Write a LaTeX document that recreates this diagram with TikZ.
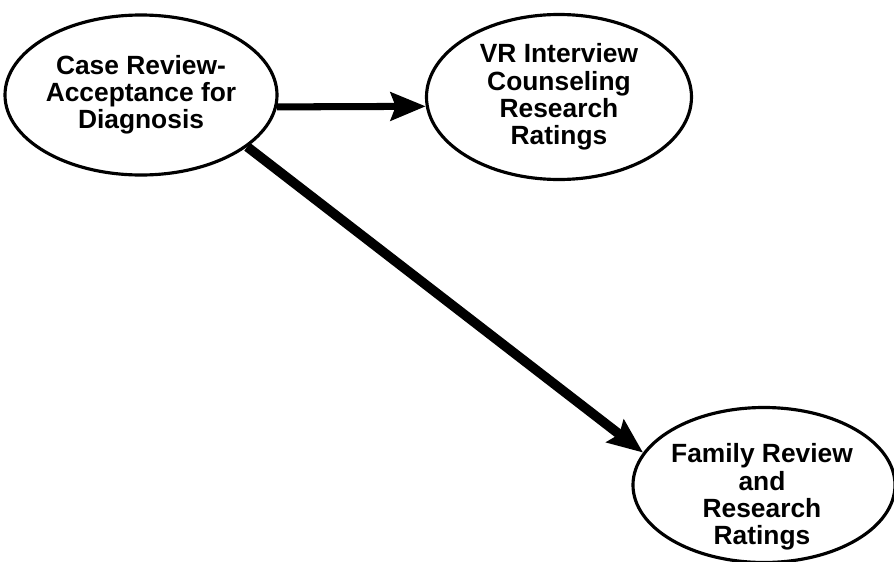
\documentclass[tikz,border=0pt]{standalone}
\usepackage{fontspec}
\setmainfont{Liberation Sans}
\usetikzlibrary{shapes.geometric,arrows.meta}

\tikzset{
  words/.style={inner sep=0pt,align=center,
    font=\bfseries\fontsize{15}{15.5}\selectfont},
  bubble/.style={words,ellipse,draw,line width=1.8pt},
  flow/.style={-{Stealth[length=7mm,width=5.6mm,inset=1mm]},line width=4pt},
}

\begin{document}
\begin{tikzpicture}[x=0.2mm,y=-0.2mm]
\useasboundingbox (0,0) rectangle (894,562);

\node[bubble,minimum width=54.4mm,minimum height=32mm] (case) at (141,95)
  {Case Review-\\Acceptance for\\Diagnosis};
\node[bubble,minimum width=53mm,minimum height=33mm] (vr) at (559,97)
  {VR Interview\\Counseling\\Research\\Ratings};
\node[bubble,minimum width=52.4mm,minimum height=31mm] (fam) at (764,485) {};
\node[words] (famtext) at (762,497) {Family Review\\and\\Research\\Ratings};

\draw[flow] (case.-5) -- (vr.184);
\draw[flow,line width=5.5pt] (case.-26) -- (fam.165);
\end{tikzpicture}
\end{document}
